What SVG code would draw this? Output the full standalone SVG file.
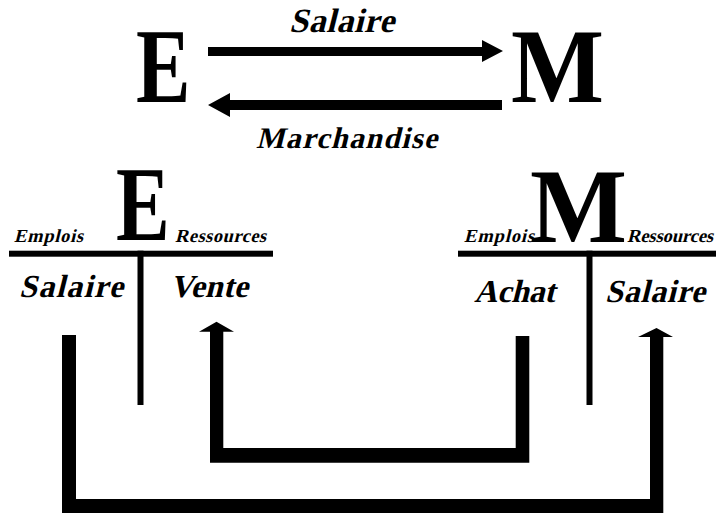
<svg xmlns="http://www.w3.org/2000/svg" width="716" height="514" viewBox="0 0 716 514">
<style>
.big{font-family:"Liberation Serif","Times New Roman",serif;font-weight:bold;font-size:106px;fill:#000}
.lbl{font-family:"Liberation Serif","Times New Roman",serif;font-weight:bold;fill:#000}
.sm{font-size:18.5px}
.md{font-size:32px}
.bar{fill:#000}
</style>
<rect width="716" height="514" fill="#fff"/>
<g id="top-E"><text class="big" transform="translate(136,102) scale(0.77,1)">E</text></g>
<g id="top-M"><text class="big" transform="translate(511,102) scale(0.93,1)">M</text></g>
<g id="account-E">
<text class="big" transform="translate(116,240) scale(0.76,1)">E</text>
<text class="lbl sm" transform="translate(14,242) skewX(-14)" textLength="69">Emplois</text>
<text class="lbl sm" transform="translate(175,242) skewX(-14)" textLength="91">Ressources</text>
<rect class="bar" x="9" y="250.7" width="264" height="6"/>
<rect class="bar" x="137.5" y="250.7" width="6" height="154.3"/>
<text class="lbl md" transform="translate(19,297) skewX(-14)" textLength="104">Salaire</text>
<text class="lbl md" transform="translate(170,297) skewX(-14)" textLength="78">Vente</text>
</g>
<g id="account-M">
<text class="big" transform="translate(530,242) scale(0.97,1)">M</text>
<text class="lbl sm" transform="translate(464,242) skewX(-14)" textLength="70">Emplois</text>
<text class="lbl sm" transform="translate(627,242) skewX(-14)" textLength="86">Ressources</text>
<rect class="bar" x="458" y="250.7" width="258" height="6"/>
<rect class="bar" x="586.5" y="250.7" width="6" height="154.3"/>
<text class="lbl md" transform="translate(474,302) skewX(-14)" textLength="81">Achat</text>
<text class="lbl md" transform="translate(605,302) skewX(-14)" textLength="100">Salaire</text>
</g>
<g id="top-labels">
<text class="lbl" transform="translate(289,32) skewX(-14)" font-size="34" textLength="105">Salaire</text>
<text class="lbl" transform="translate(256,148) skewX(-14)" font-size="30" textLength="181">Marchandise</text>
</g>
<g id="connectors">
<path class="bar" d="M208,47 L482,47 L482,40 L503,51 L482,62 L482,56 L208,56 Z"/>
<path class="bar" d="M502,100 L230,100 L230,93 L208,105 L230,117 L230,110 L502,110 Z"/>
<path class="bar" d="M515.7,336 L529.3,336 L529.3,462.7 L210,462.7 L210,331.7 L199,331.7 L216.5,321.7 L234,331.7 L223.3,331.7 L223.3,448 L515.7,448 Z"/>
<path class="bar" d="M62,335 L76,335 L76,499 L650,499 L650,337 L638,337 L656.5,328 L673,337 L663.3,337 L663.3,513 L62,513 Z"/>
</g>
</svg>
